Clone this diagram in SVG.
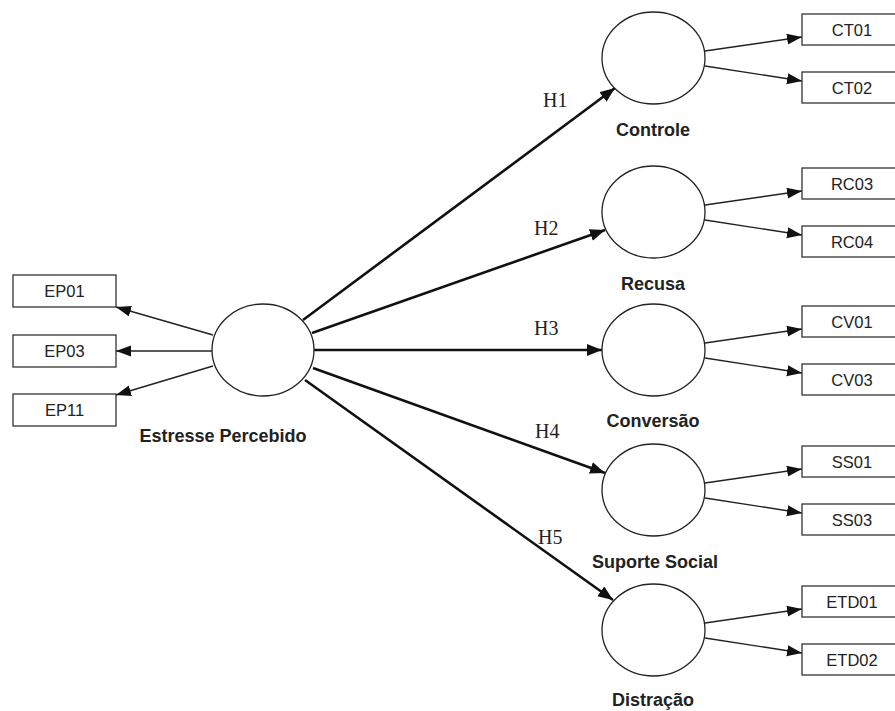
<svg xmlns="http://www.w3.org/2000/svg" width="895" height="711" viewBox="0 0 895 711">
<style>
.box{fill:#fff;stroke:#333;stroke-width:1.3}
.lat{fill:#fff;stroke:#222;stroke-width:1.3}
.bt{font-family:"Liberation Sans",Arial,sans-serif;font-size:16.5px;fill:#222;text-anchor:middle}
.lt{font-family:"Liberation Sans",Arial,sans-serif;font-size:18px;font-weight:bold;fill:#222;text-anchor:middle}
.ht{font-family:"Liberation Serif","Times New Roman",serif;font-size:20px;fill:#222}
.thick{stroke:#111;stroke-width:2.6;fill:none;marker-end:url(#ah)}
.thin{stroke:#222;stroke-width:1.4;fill:none;marker-end:url(#ah2)}
</style>
<defs>
<marker id="ah" markerUnits="userSpaceOnUse" markerWidth="17" markerHeight="13" refX="15" refY="6" orient="auto"><path d="M0,0 L15,6 L0,12 z" fill="#111"/></marker>
<marker id="ah2" markerUnits="userSpaceOnUse" markerWidth="17" markerHeight="12" refX="15" refY="5.5" orient="auto"><path d="M0,0 L15,5.5 L0,11 z" fill="#111"/></marker>
</defs>
<rect width="895" height="711" fill="#fff"/>
<g id="connectors">
<line class="thick" x1="303" y1="320" x2="615" y2="88"/>
<line class="thick" x1="312" y1="333" x2="605" y2="230"/>
<line class="thick" x1="314" y1="350" x2="602" y2="350"/>
<line class="thick" x1="313" y1="368" x2="605" y2="473"/>
<line class="thick" x1="305" y1="380" x2="613" y2="600"/>
<line class="thin" x1="213" y1="335" x2="116" y2="307"/>
<line class="thin" x1="212" y1="351" x2="116" y2="351"/>
<line class="thin" x1="213" y1="366" x2="116" y2="395"/>
<line class="thin" x1="705" y1="51" x2="802" y2="37"/>
<line class="thin" x1="705" y1="66" x2="802" y2="81"/>
<line class="thin" x1="705" y1="205" x2="802" y2="191"/>
<line class="thin" x1="705" y1="220" x2="802" y2="235"/>
<line class="thin" x1="705" y1="343" x2="802" y2="329"/>
<line class="thin" x1="705" y1="358" x2="802" y2="373"/>
<line class="thin" x1="705" y1="483" x2="802" y2="469"/>
<line class="thin" x1="705" y1="498" x2="802" y2="513"/>
<line class="thin" x1="705" y1="623" x2="802" y2="609"/>
<line class="thin" x1="705" y1="638" x2="802" y2="653"/>
<text class="ht" x="543" y="107">H1</text>
<text class="ht" x="534" y="235">H2</text>
<text class="ht" x="534" y="335">H3</text>
<text class="ht" x="535" y="438">H4</text>
<text class="ht" x="538" y="544">H5</text>
</g>
<g id="estresse">
<ellipse class="lat" cx="263" cy="350" rx="51" ry="46"/>
<text class="lt" x="223" y="442">Estresse Percebido</text>
</g>
<g id="EP01"><rect class="box" x="13" y="275" width="103" height="32"/><text class="bt" x="64.5" y="297">EP01</text></g>
<g id="EP03"><rect class="box" x="13" y="335" width="103" height="32"/><text class="bt" x="64.5" y="357">EP03</text></g>
<g id="EP11"><rect class="box" x="13" y="394" width="103" height="32"/><text class="bt" x="64.5" y="416">EP11</text></g>
<g id="controle">
<ellipse class="lat" cx="653.5" cy="58" rx="51.5" ry="46"/>
<text class="lt" x="653" y="136">Controle</text>
</g>
<g id="CT01"><rect class="box" x="802" y="14" width="100" height="31"/><text class="bt" x="852" y="36">CT01</text></g>
<g id="CT02"><rect class="box" x="802" y="72" width="100" height="31"/><text class="bt" x="852" y="94">CT02</text></g>
<g id="recusa">
<ellipse class="lat" cx="653.5" cy="212" rx="51.5" ry="46"/>
<text class="lt" x="653" y="290">Recusa</text>
</g>
<g id="RC03"><rect class="box" x="802" y="168" width="100" height="31"/><text class="bt" x="852" y="190">RC03</text></g>
<g id="RC04"><rect class="box" x="802" y="226" width="100" height="31"/><text class="bt" x="852" y="248">RC04</text></g>
<g id="conversao">
<ellipse class="lat" cx="653.5" cy="350" rx="51.5" ry="46"/>
<text class="lt" x="653" y="427">Conversão</text>
</g>
<g id="CV01"><rect class="box" x="802" y="306" width="100" height="31"/><text class="bt" x="852" y="328">CV01</text></g>
<g id="CV03"><rect class="box" x="802" y="364" width="100" height="31"/><text class="bt" x="852" y="386">CV03</text></g>
<g id="suporte">
<ellipse class="lat" cx="653.5" cy="490" rx="51.5" ry="46"/>
<text class="lt" x="655" y="568">Suporte Social</text>
</g>
<g id="SS01"><rect class="box" x="802" y="446" width="100" height="31"/><text class="bt" x="852" y="468">SS01</text></g>
<g id="SS03"><rect class="box" x="802" y="504" width="100" height="31"/><text class="bt" x="852" y="526">SS03</text></g>
<g id="distracao">
<ellipse class="lat" cx="653.5" cy="630" rx="51.5" ry="46"/>
<text class="lt" x="653" y="706">Distração</text>
</g>
<g id="ETD01"><rect class="box" x="802" y="586" width="100" height="31"/><text class="bt" x="852" y="608">ETD01</text></g>
<g id="ETD02"><rect class="box" x="802" y="644" width="100" height="31"/><text class="bt" x="852" y="666">ETD02</text></g>
</svg>
